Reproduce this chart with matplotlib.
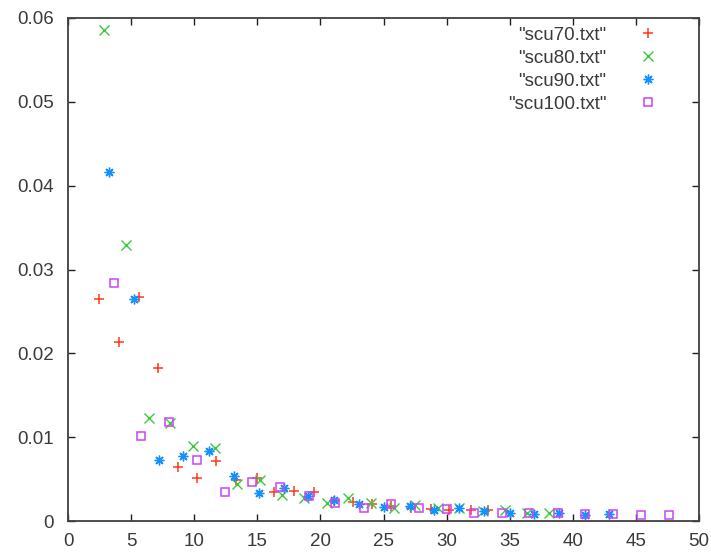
import matplotlib
matplotlib.use("Agg")
import matplotlib.pyplot as plt

# scu70.txt
x70 = [2.45, 4.07, 5.6, 7.1, 8.71, 10.22, 11.7, 13.35, 14.97, 16.35, 17.93,
       19.47, 21.05, 22.55, 24.1, 25.6, 27.2, 28.8, 30.2, 31.9, 33.3]
y70 = [0.0265, 0.0214, 0.0267, 0.0182, 0.0065, 0.0051, 0.0071, 0.0049, 0.0051,
       0.0035, 0.0036, 0.0034, 0.0024, 0.0023, 0.0020, 0.0018, 0.0016, 0.0014,
       0.0013, 0.0013, 0.0013]

# scu80.txt
x80 = [2.85, 4.62, 6.44, 8.1, 9.9, 11.67, 13.41, 15.18, 16.95, 18.7, 20.52,
       22.19, 24.0, 25.8, 27.5, 29.3, 31.0, 32.9, 34.6, 36.37, 38.1]
y80 = [0.0586, 0.0329, 0.0123, 0.0117, 0.0090, 0.0087, 0.0044, 0.0049, 0.0031,
       0.0028, 0.0021, 0.0027, 0.0022, 0.0016, 0.0019, 0.0015, 0.0016, 0.0012,
       0.0013, 0.0010, 0.0010]

# scu90.txt
x90 = [3.22, 5.2, 7.21, 9.14, 11.14, 13.12, 15.13, 17.11, 19.04, 21.05, 23.03,
       25.0, 27.07, 28.97, 31.0, 32.93, 35.0, 36.9, 38.88, 40.99, 42.9]
y90 = [0.0416, 0.0265, 0.0073, 0.0078, 0.0084, 0.0054, 0.0033, 0.0039, 0.0030,
       0.0025, 0.0020, 0.0017, 0.0018, 0.0013, 0.0015, 0.0012, 0.0010, 0.0008,
       0.0009, 0.0007, 0.0008]

# scu100.txt
x100 = [3.61, 5.78, 7.97, 10.22, 12.41, 14.58, 16.82, 19.07, 21.18, 23.42,
        25.6, 27.78, 30.03, 32.2, 34.39, 36.55, 38.83, 40.99, 43.18, 45.43, 47.62]
y100 = [0.0284, 0.0101, 0.0118, 0.0073, 0.0034, 0.0046, 0.0040, 0.0030, 0.0021,
        0.0016, 0.0020, 0.0016, 0.0014, 0.0010, 0.0010, 0.0009, 0.0010, 0.0008,
        0.0008, 0.0007, 0.0007]

plt.rcParams['font.family'] = ['Liberation Sans', 'DejaVu Sans']
fs = 13.5
grey = '#3a3a3a'

fig = plt.figure(figsize=(7.11, 5.52), dpi=100)
ax = fig.add_axes([68 / 711, 31 / 552, 631 / 711, 503 / 552])

ax.plot(x70, y70, ls='none', marker='+', ms=7, mew=1.1, color='#ff3a1a', label='"scu70.txt"')
ax.plot(x80, y80, ls='none', marker='x', ms=6.5, mew=1.0, color='#3cc83c', label='"scu80.txt"')
ax.plot(x90, y90, ls='none', marker=(8, 2, 0), ms=7, mew=1.0, color='#1490ff', label='"scu90.txt"')
ax.plot(x100, y100, ls='none', marker='s', ms=6, mew=1.1, mfc='none', mec='#cc44f4', label='"scu100.txt"')

ax.set_xlim(0, 50)
ax.set_ylim(0, 0.06)
ax.set_xticks(range(0, 51, 5))
ax.set_yticks([0, 0.01, 0.02, 0.03, 0.04, 0.05, 0.06])
ax.set_yticklabels(['0', '0.01', '0.02', '0.03', '0.04', '0.05', '0.06'])

for s in ax.spines.values():
    s.set_color('#404040')
    s.set_linewidth(1.3)
ax.tick_params(direction='in', length=5, width=1, color='#202020',
               top=True, right=True, labelsize=fs, labelcolor=grey)
ax.tick_params(axis='x', pad=9)
ax.tick_params(axis='y', pad=10)

# gnuplot-style key: right-justified titles with the sample after them
leg = ax.legend(loc='upper right', bbox_to_anchor=(0.960, 1.013), frameon=False,
                markerfirst=False, fontsize=fs, handlelength=1.2, handletextpad=1.6,
                labelspacing=0.32, borderpad=0.3)
for t in leg.get_texts():
    t.set_color(grey)

fig.savefig('out.png', dpi=100)
